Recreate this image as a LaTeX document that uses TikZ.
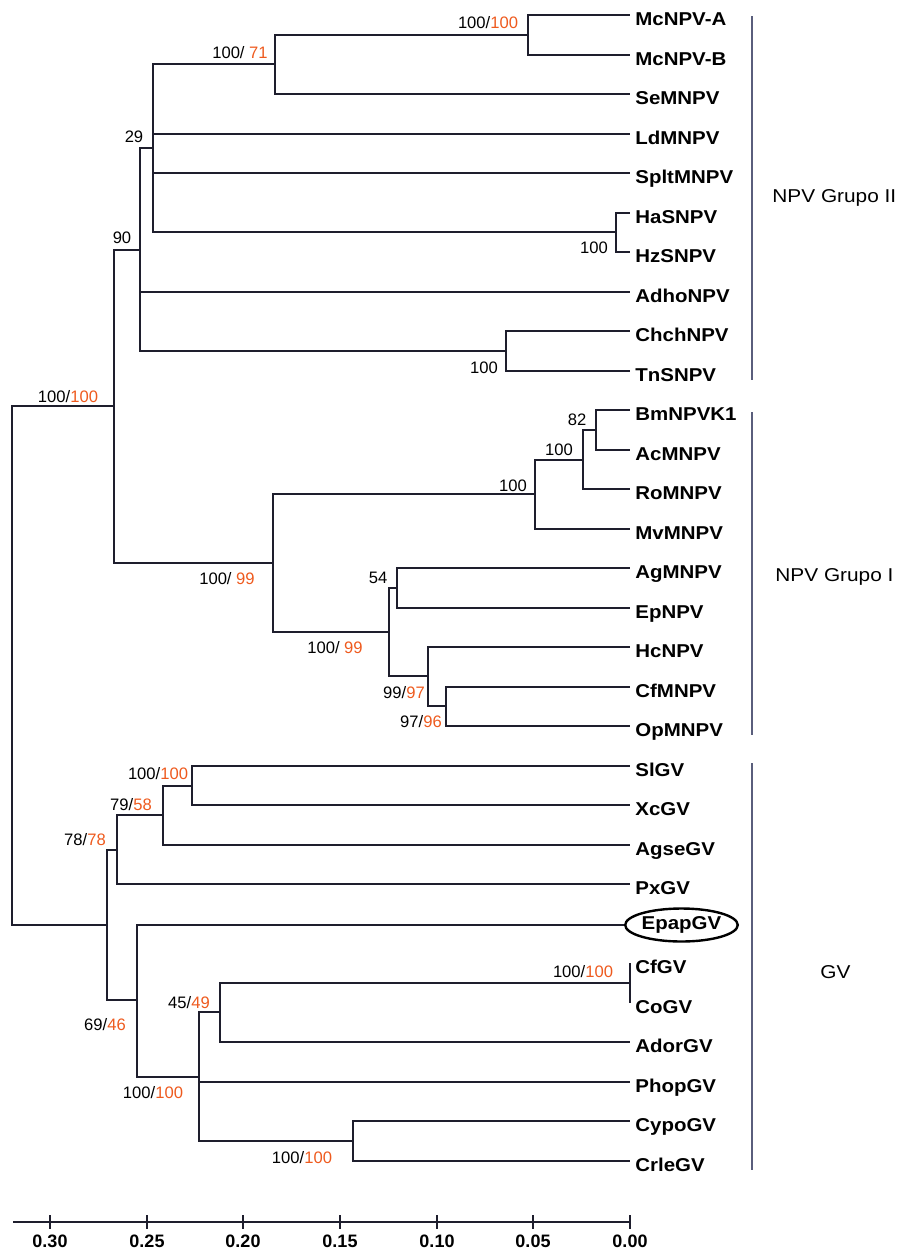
\documentclass[tikz,border=0pt]{standalone}
\usepackage{fontspec}
\setmainfont{Liberation Sans}
\newfontfamily\leaffont[FakeStretch=1.1]{Liberation Sans}
\newfontfamily\groupfont[FakeStretch=1.12]{Liberation Sans}
\usetikzlibrary{shapes.geometric}

\definecolor{treeline}{HTML}{1E1E2D}
\definecolor{bootorange}{HTML}{EE5A1E}
\definecolor{groupbar}{HTML}{5A5E7C}
\newcommand{\orng}[1]{\textcolor{bootorange}{#1}}

\begin{document}
\begin{tikzpicture}[
    x=0.5pt, y=-0.5pt,
    taxon/.style={
        anchor=west,
        inner xsep=2.5pt,
        inner ysep=0pt,
        text height=10pt,
        text depth=0pt,
        font=\leaffont\bfseries\fontsize{9.3}{11}\selectfont,
    },
    marked/.style={
        ellipse,
        draw=black,
        line width=1.2pt,
        anchor=west,
        minimum width=53pt,
        minimum height=16.5pt,
        inner sep=0pt,
        font=\leaffont\bfseries\fontsize{9.3}{11}\selectfont,
    },
    support/.style={
        inner sep=0pt,
        font=\fontsize{8.3}{10}\selectfont,
    },
    group/.style={
        anchor=west,
        inner sep=0pt,
        font=\groupfont\fontsize{9.3}{11}\selectfont,
    },
    ticklabel/.style={
        inner sep=0pt,
        font=\bfseries\fontsize{9}{11}\selectfont,
    },
    branch/.style={
        line width=1pt,
        draw=treeline
    },
    bar/.style={
        line width=0.6pt,
        draw=groupbar
    },
    scalebar/.style={
        line width=1pt,
        draw=treeline
    }
]
    \useasboundingbox (0,0) rectangle (899,1253);

    \node[taxon] (McNPVA) at (630,15) {McNPV-A};
    \node[taxon] (McNPVB) at (630,55) {McNPV-B};
    \node[taxon] (SeMNPV) at (630,94) {SeMNPV};
    \node[taxon] (LdMNPV) at (630,134) {LdMNPV};
    \node[taxon] (SpltMNPV) at (630,173) {SpltMNPV};
    \node[taxon] (HaSNPV) at (630,213) {HaSNPV};
    \node[taxon] (HzSNPV) at (630,252) {HzSNPV};
    \node[taxon] (AdhoNPV) at (630,292) {AdhoNPV};
    \node[taxon] (ChchNPV) at (630,331) {ChchNPV};
    \node[taxon] (TnSNPV) at (630,371) {TnSNPV};

    \node[taxon] (BmNPVK1) at (630,410) {BmNPVK1};
    \node[taxon] (AcMNPV) at (630,450) {AcMNPV};
    \node[taxon] (RoMNPV) at (630,489) {RoMNPV};
    \node[taxon] (MvMNPV) at (630,529) {MvMNPV};
    \node[taxon] (AgMNPV) at (630,568) {AgMNPV};
    \node[taxon] (EpNPV) at (630,608) {EpNPV};
    \node[taxon] (HcNPV) at (630,647) {HcNPV};
    \node[taxon] (CfMNPV) at (630,687) {CfMNPV};
    \node[taxon] (OpMNPV) at (630,726) {OpMNPV};

    \node[taxon] (SlGV) at (630,766) {SlGV};
    \node[taxon] (XcGV) at (630,805) {XcGV};
    \node[taxon] (AgseGV) at (630,845) {AgseGV};
    \node[taxon] (PxGV) at (630,884) {PxGV};
    \node[marked] (EpapGV) at (624,925) {EpapGV};
    \node[taxon] (CfGV) at (630,963) {CfGV};
    \node[taxon] (CoGV) at (630,1003) {CoGV};
    \node[taxon] (AdorGV) at (630,1042) {AdorGV};
    \node[taxon] (PhopGV) at (630,1082) {PhopGV};
    \node[taxon] (CypoGV) at (630,1121) {CypoGV};
    \node[taxon] (CrleGV) at (630,1161) {CrleGV};

    \coordinate (root) at (12,666);
    \coordinate (cNPV) at (114,406);
    \coordinate (c90) at (140,250);
    \coordinate (c29) at (153,148);
    \coordinate (cMcSe) at (275,64);
    \coordinate (cMc) at (528,35);
    \coordinate (cHaHz) at (616,232);
    \coordinate (cChTn) at (506,351);
    \coordinate (cG1) at (273,563);
    \coordinate (cMv) at (535,494);
    \coordinate (cRo) at (583,460);
    \coordinate (cBmAc) at (596,430);
    \coordinate (cHc) at (389,632);
    \coordinate (c54) at (397,588);
    \coordinate (c99) at (428,676);
    \coordinate (c97) at (446,706);
    \coordinate (cGV) at (107,925);
    \coordinate (c78) at (117,850);
    \coordinate (c79) at (163,815);
    \coordinate (cSlXc) at (192,786);
    \coordinate (c69) at (137,1000);
    \coordinate (cAd) at (199,1077);
    \coordinate (c45) at (220,1012);
    \coordinate (cCfCo) at (630,983);
    \coordinate (cCyCr) at (353,1141);

    \draw[branch] (root) |- (cNPV);
    \draw[branch] (root) |- (cGV);

    \draw[branch] (cNPV) |- (c90);
    \draw[branch] (cNPV) |- (cG1);

    \draw[branch] (c90) |- (c29);
    \draw[branch] (c90) |- (AdhoNPV);
    \draw[branch] (c90) |- (cChTn);
    \draw[branch] (c29) |- (cMcSe);
    \draw[branch] (c29) |- (LdMNPV);
    \draw[branch] (c29) |- (SpltMNPV);
    \draw[branch] (c29) |- (cHaHz);
    \draw[branch] (cMcSe) |- (cMc);
    \draw[branch] (cMcSe) |- (SeMNPV);
    \draw[branch] (cMc) |- (McNPVA);
    \draw[branch] (cMc) |- (McNPVB);
    \draw[branch] (cHaHz) |- (HaSNPV);
    \draw[branch] (cHaHz) |- (HzSNPV);
    \draw[branch] (cChTn) |- (ChchNPV);
    \draw[branch] (cChTn) |- (TnSNPV);

    \draw[branch] (cG1) |- (cMv);
    \draw[branch] (cG1) |- (cHc);
    \draw[branch] (cMv) |- (cRo);
    \draw[branch] (cMv) |- (MvMNPV);
    \draw[branch] (cRo) |- (cBmAc);
    \draw[branch] (cRo) |- (RoMNPV);
    \draw[branch] (cBmAc) |- (BmNPVK1);
    \draw[branch] (cBmAc) |- (AcMNPV);
    \draw[branch] (cHc) |- (c54);
    \draw[branch] (cHc) |- (c99);
    \draw[branch] (c54) |- (AgMNPV);
    \draw[branch] (c54) |- (EpNPV);
    \draw[branch] (c99) |- (HcNPV);
    \draw[branch] (c99) |- (c97);
    \draw[branch] (c97) |- (CfMNPV);
    \draw[branch] (c97) |- (OpMNPV);

    \draw[branch] (cGV) |- (c78);
    \draw[branch] (cGV) |- (c69);
    \draw[branch] (c78) |- (c79);
    \draw[branch] (c78) |- (PxGV);
    \draw[branch] (c79) |- (cSlXc);
    \draw[branch] (c79) |- (AgseGV);
    \draw[branch] (cSlXc) |- (SlGV);
    \draw[branch] (cSlXc) |- (XcGV);
    \draw[branch] (c69) |- (EpapGV);
    \draw[branch] (c69) |- (cAd);
    \draw[branch] (cAd) |- (c45);
    \draw[branch] (cAd) |- (PhopGV);
    \draw[branch] (cAd) |- (cCyCr);
    \draw[branch] (c45) |- (cCfCo);
    \draw[branch] (c45) |- (AdorGV);
    \draw[branch] (cCfCo) |- (CfGV);
    \draw[branch] (cCfCo) |- (CoGV);
    \draw[branch] (cCyCr) |- (CypoGV);
    \draw[branch] (cCyCr) |- (CrleGV);

    \node[support] (sMc) at (488,23) {100/\orng{100}};
    \node[support] (sMcSe) at (240,53) {100/ \orng{71}};
    \node[support] (s29) at (134,137) {29};
    \node[support] (s90) at (122,238) {90};
    \node[support] (sNPV) at (68,397) {100/\orng{100}};
    \node[support] (sHaHz) at (594,248) {100};
    \node[support] (sChTn) at (484,368) {100};
    \node[support] (sBmAc) at (577,420) {82};
    \node[support] (sRo) at (559,450) {100};
    \node[support] (sMv) at (513,486) {100};
    \node[support] (sG1) at (227,579) {100/ \orng{99}};
    \node[support] (sHc) at (335,648) {100/ \orng{99}};
    \node[support] (s54) at (378,578) {54};
    \node[support] (s99) at (404,693) {99/\orng{97}};
    \node[support] (s97) at (421,722) {97/\orng{96}};
    \node[support] (sSlXc) at (158,774) {100/\orng{100}};
    \node[support] (s79) at (131,805) {79/\orng{58}};
    \node[support] (s78) at (85,840) {78/\orng{78}};
    \node[support] (s69) at (105,1025) {69/\orng{46}};
    \node[support] (sAd) at (153,1093) {100/\orng{100}};
    \node[support] (s45) at (189,1003) {45/\orng{49}};
    \node[support] (sCfCo) at (583,972) {100/\orng{100}};
    \node[support] (sCyCr) at (302,1158) {100/\orng{100}};

    \coordinate (gIIa) at (752,16);
    \coordinate (gIIb) at (752,380);
    \coordinate (gIa) at (752,412);
    \coordinate (gIb) at (752,735);
    \coordinate (gGVa) at (752,763);
    \coordinate (gGVb) at (752,1170);
    \draw[bar] (gIIa) -- (gIIb);
    \draw[bar] (gIa) -- (gIb);
    \draw[bar] (gGVa) -- (gGVb);
    \node[group] (grII) at (772,198) {NPV Grupo II};
    \node[group] (grI) at (775,577) {NPV Grupo I};
    \node[group] (grGV) at (820,972) {GV};

    \coordinate (ax0) at (13,1222);
    \coordinate (ax1) at (630,1222);
    \draw[scalebar] (ax0) -- (ax1);
    \draw[scalebar] (50,1215) -- (50,1229);
    \draw[scalebar] (147,1215) -- (147,1229);
    \draw[scalebar] (243,1215) -- (243,1229);
    \draw[scalebar] (340,1215) -- (340,1229);
    \draw[scalebar] (437,1215) -- (437,1229);
    \draw[scalebar] (533,1215) -- (533,1229);
    \draw[scalebar] (630,1215) -- (630,1229);
    \node[ticklabel] (t30) at (50,1241) {0.30};
    \node[ticklabel] (t25) at (147,1241) {0.25};
    \node[ticklabel] (t20) at (243,1241) {0.20};
    \node[ticklabel] (t15) at (340,1241) {0.15};
    \node[ticklabel] (t10) at (437,1241) {0.10};
    \node[ticklabel] (t05) at (533,1241) {0.05};
    \node[ticklabel] (t00) at (630,1241) {0.00};
\end{tikzpicture}
\end{document}
